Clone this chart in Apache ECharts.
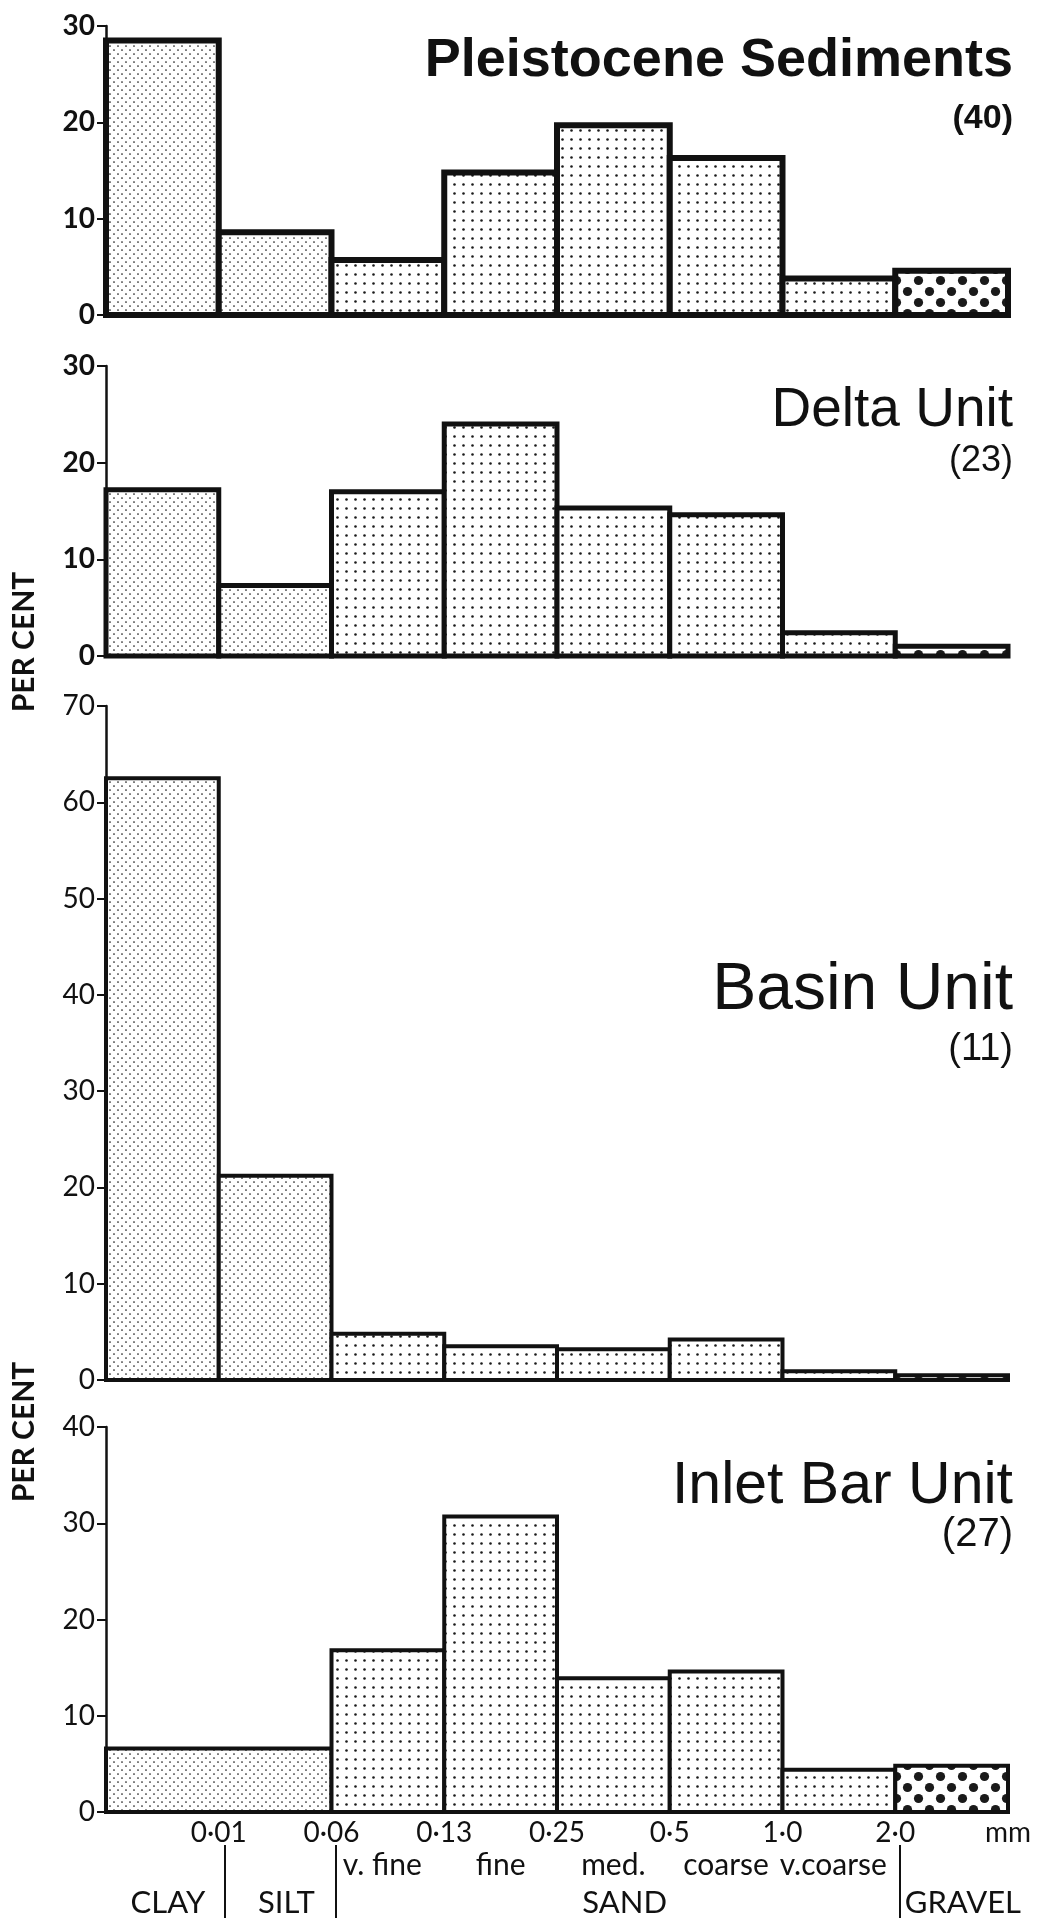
<!DOCTYPE html>
<html>
<head>
<meta charset="utf-8">
<script src="https://cdn.jsdelivr.net/npm/echarts@6/dist/echarts.min.js"></script>
<style>
  html, body { margin: 0; padding: 0; background: #fff; }
  #main { width: 1047px; height: 1918px; }
</style>
</head>
<body>
<div id="main"></div>
<script>
// grain size classes (bins between the mm limits)
const sizeLimits = ['', '0·01', '0·06', '0·13', '0·25', '0·5', '1·0', '2·0', 'mm']
const sandClasses = ['v. fine', 'fine', 'med.', 'coarse', 'v.coarse']
const mainClasses = ['CLAY', 'SILT', 'SAND', 'GRAVEL']
const textures = ['fine', 'fine', 'sand', 'sand', 'sand', 'sand', 'sand', 'gravel']

// per cent in each class
const pleistocene = [28.5, 8.6, 5.7, 14.8, 19.7, 16.3, 3.8, 4.6]
const delta = [17.2, 7.3, 17.0, 24.0, 15.3, 14.6, 2.4, 1.0]
const basin = [62.5, 21.2, 4.8, 3.5, 3.2, 4.2, 0.9, 0.5]
// inlet bar: clay and silt are lumped in one bar
const inletBar = [6.6, 16.8, 30.7, 13.9, 14.6, 4.4, 4.8]
const inletSpans = [2, 1, 1, 1, 1, 1, 1]

const yMax = [30, 30, 70, 40]

function makePattern(size, dots, r) {
  const c = document.createElement('canvas')
  c.width = size
  c.height = size
  const ctx = c.getContext('2d')
  ctx.fillStyle = '#fff'
  ctx.fillRect(0, 0, size, size)
  ctx.fillStyle = '#1a1a1a'
  dots.forEach(([x, y]) => {
    ctx.beginPath()
    ctx.arc(x, y, r, 0, Math.PI * 2)
    ctx.fill()
  })
  return { image: c, repeat: 'repeat' }
}

const patterns = {
  fine: makePattern(8, [[2, 2], [6, 6]], 0.85),
  sand: makePattern(9, [[4.5, 4.5]], 1.3),
  gravel: makePattern(22, [[5.5, 5.5], [16.5, 16.5]], 4.6),
}

function buildItems(values, spans) {
  let x = 0
  return values.map((v, i) => {
    const s = spans ? spans[i] : 1
    const item = [x, x + s, v, x]
    x += s
    return item
  })
}

function histSeries(idx, values, spans, bw) {
  return {
    type: 'custom',
    xAxisIndex: idx,
    yAxisIndex: idx,
    encode: { x: [0, 1], y: 2 },
    data: buildItems(values, spans),
    renderItem: (params, api) => {
      const p0 = api.coord([api.value(0), 0])
      const p1 = api.coord([api.value(1), api.value(2)])
      return {
        type: 'rect',
        shape: { x: p0[0], y: p1[1], width: p1[0] - p0[0], height: p0[1] - p1[1] },
        style: { fill: patterns[textures[api.value(3)]], stroke: '#111', lineWidth: bw },
      }
    },
  }
}

const grids = [
  { left: 106, right: 39, top: 26, height: 289 },
  { left: 106, right: 39, top: 366, height: 290 },
  { left: 106, right: 39, top: 706, height: 674 },
  { left: 106, right: 39, top: 1427, height: 385 },
]

const labelWeights = ['bold', 'bold', 'normal', 'normal']

const yAxes = yMax.map((m, i) => ({
  type: 'value',
  gridIndex: i,
  min: 0,
  max: m,
  interval: 10,
  axisLine: { show: true, lineStyle: { color: '#111', width: 2.5 } },
  axisTick: { show: true, length: 9, lineStyle: { color: '#111', width: 2 } },
  axisLabel: { color: '#111', margin: 11, fontFamily: 'Lato', fontSize: 28, fontWeight: labelWeights[i] },
  splitLine: { show: false },
}))

const baseX = (i) => ({
  type: 'value',
  gridIndex: i,
  min: 0,
  max: 8,
  interval: 1,
  axisLine: { show: true, onZero: false, lineStyle: { color: '#111', width: 3 } },
  axisTick: { show: false },
  axisLabel: { show: false },
  splitLine: { show: false },
})

const xAxes = [baseX(0), baseX(1), baseX(2), baseX(3)]
xAxes[3].axisTick = { show: true, inside: true, customValues: [1], length: 8, lineStyle: { color: '#111', width: 2 } }
xAxes[3].axisLabel = {
  show: true,
  customValues: [1, 2, 3, 4, 5, 6, 7, 8],
  formatter: (v) => sizeLimits[Math.round(v)],
  color: '#111',
  fontFamily: 'Lato',
  fontSize: 28,
  margin: 7,
}
// sand sub-class names
xAxes.push({
  type: 'value',
  gridIndex: 3,
  min: 0,
  max: 8,
  position: 'bottom',
  offset: 38,
  axisLine: { show: false },
  axisTick: { show: false },
  splitLine: { show: false },
  axisLabel: {
    customValues: [2.45, 3.5, 4.5, 5.5, 6.45],
    formatter: (v) => sandClasses[Math.round(v - 2.5)],
    color: '#111',
    fontFamily: 'Lato',
    fontSize: 30,
    margin: 0,
  },
})
// main class names with separators
const mainPos = [0.55, 1.6, 4.6, 7.6]
xAxes.push({
  type: 'value',
  gridIndex: 3,
  min: 0,
  max: 8,
  position: 'bottom',
  offset: 33,
  axisLine: { show: false },
  axisTick: { show: true, customValues: [1.05, 2.04, 7.04], length: 75, lineStyle: { color: '#111', width: 2 } },
  splitLine: { show: false },
  axisLabel: {
    customValues: mainPos,
    formatter: (v) => mainClasses[mainPos.indexOf(v)],
    color: '#111',
    fontFamily: 'Lato',
    fontSize: 31,
    margin: 42,
  },
})

const titleText = (text, top, size, weight) => ({
  text,
  right: 34,
  top,
  padding: 0,
  textStyle: { color: '#111', fontSize: size, fontWeight: weight, fontFamily: 'Liberation Sans' },
})

const chart = echarts.init(document.getElementById('main'), null, { renderer: 'canvas' })
chart.setOption({
  backgroundColor: '#fff',
  animation: false,
  title: [
    titleText('Pleistocene Sediments', 34, 54, 'bold'),
    titleText('(40)', 102, 34, 'bold'),
    titleText('Delta Unit', 383, 55, 'normal'),
    titleText('(23)', 443, 36, 'normal'),
    titleText('Basin Unit', 958, 66, 'normal'),
    titleText('(11)', 1031, 38, 'normal'),
    titleText('Inlet Bar Unit', 1457, 59, 'normal'),
    titleText('(27)', 1515, 40, 'normal'),
  ],
  graphic: [
    { type: 'text', x: 24, y: 642, rotation: Math.PI / 2,
      style: { text: 'PER CENT', font: 'bold 30px Lato', fill: '#111', align: 'center', verticalAlign: 'middle' } },
    { type: 'text', x: 24, y: 1432, rotation: Math.PI / 2,
      style: { text: 'PER CENT', font: 'bold 30px Lato', fill: '#111', align: 'center', verticalAlign: 'middle' } },
  ],
  grid: grids,
  xAxis: xAxes,
  yAxis: yAxes,
  series: [
    histSeries(0, pleistocene, null, 6),
    histSeries(1, delta, null, 5),
    histSeries(2, basin, null, 4),
    histSeries(3, inletBar, inletSpans, 4),
  ],
})
</script>
</body>
</html>
